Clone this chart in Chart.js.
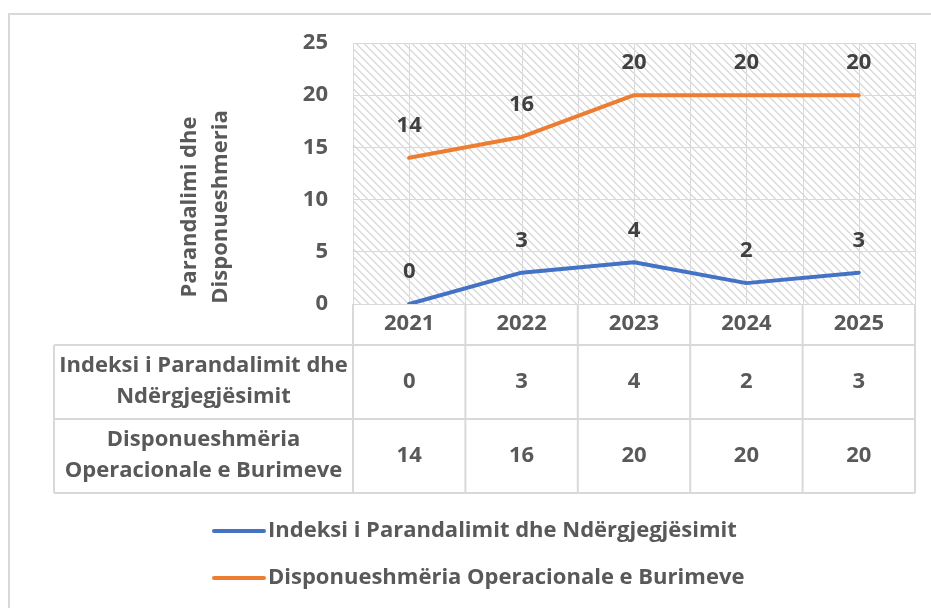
<!DOCTYPE html>
<html lang="sq">
<head>
<meta charset="utf-8">
<title>Parandalimi dhe Disponueshmeria</title>
<script src="https://cdn.jsdelivr.net/npm/chart.js@4.4.1/dist/chart.umd.min.js"></script>
<style>
  html, body { margin: 0; padding: 0; background: #ffffff; }
  canvas { display: block; }
</style>
</head>
<body>
<canvas id="grafica" width="931" height="608"></canvas>
<script>
// --- Datos ---
const anios = ['2021', '2022', '2023', '2024', '2025'];
const valoresIndeksi = [0, 3, 4, 2, 3];
const valoresDisponueshmeria = [14, 16, 20, 20, 20];
const nombresSeries = ['Indeksi i Parandalimit dhe Ndërgjegjësimit', 'Disponueshmëria Operacionale e Burimeve'];
const filasTabla = [
    ['Indeksi i Parandalimit dhe', 'Ndërgjegjësimit'],
    ['Disponueshmëria', 'Operacionale e Burimeve']
];
const tituloEjeY = ['Parandalimi dhe', 'Disponueshmeria'];
const ticksY = [0, 5, 10, 15, 20, 25];
const coloresSeries = ['#4472C4', '#ED7D31'];

const FAMILIA = "'Open Sans'";
const TAMANO = 22;
const FUENTE = "bold " + TAMANO + "px " + FAMILIA;
const GRIS_TEXTO = '#595959';
const GRIS_LINEA = '#d9d9d9';

// Patron rayado (diagonal hacia abajo) para el fondo del area de trazado
function crearRayado(ctx) {
    const c = document.createElement('canvas');
    c.width = 8; c.height = 8;
    const p = c.getContext('2d');
    p.fillStyle = '#ffffff';
    p.fillRect(0, 0, 8, 8);
    p.fillStyle = '#dcdcdc';
    for (let i = 0; i < 8; i++) {
        p.fillRect(i, i, 1, 1);
        p.fillRect((i + 1) % 8, i, 1, 1);
    }
    return ctx.createPattern(c, 'repeat');
}

const pluginFondo = {
    id: 'fondo',
    beforeDraw(chart) {
        const { ctx, chartArea: a, scales } = chart;
        ctx.save();
        ctx.fillStyle = '#ffffff';
        ctx.fillRect(0, 0, chart.width, chart.height);
        // marco exterior
        ctx.strokeStyle = GRIS_LINEA;
        ctx.lineWidth = 2;
        ctx.strokeRect(9, 14, chart.width + 20, chart.height + 20);
        // rayado
        ctx.fillStyle = crearRayado(ctx);
        ctx.fillRect(a.left, a.top, a.right - a.left, a.bottom - a.top);
        // lineas verticales cada media categoria
        const x = scales.x;
        const paso = x.getPixelForValue(1) - x.getPixelForValue(0);
        ctx.strokeStyle = GRIS_LINEA;
        ctx.lineWidth = 1;
        for (let k = 0; k <= anios.length * 2; k++) {
            const px = Math.round(a.left + k * paso / 2) + 0.5;
            ctx.beginPath();
            ctx.moveTo(px, a.top);
            ctx.lineTo(px, a.bottom);
            ctx.stroke();
        }
        ctx.restore();
    }
};

const pluginEtiquetas = {
    id: 'etiquetas',
    afterDatasetsDraw(chart) {
        const { ctx } = chart;
        ctx.save();
        ctx.font = FUENTE;
        ctx.fillStyle = '#404040';
        ctx.textAlign = 'center';
        ctx.textBaseline = 'middle';
        chart.data.datasets.forEach((ds, i) => {
            chart.getDatasetMeta(i).data.forEach((pt, j) => {
                ctx.fillText(String(ds.data[j]), pt.x, pt.y - 32);
            });
        });
        ctx.restore();
    }
};

// Tabla de datos, titulo del eje Y y leyenda
const pluginTabla = {
    id: 'tabla',
    afterDraw(chart) {
        const { ctx, chartArea: a, scales } = chart;
        const x = scales.x;
        const paso = x.getPixelForValue(1) - x.getPixelForValue(0);
        const yCab = a.bottom, yF1 = 345, yF2 = 419, yFin = 493, xIzq = 54;

        ctx.save();
        ctx.strokeStyle = GRIS_LINEA;
        ctx.lineWidth = 2;
        const linea = (x1, y1, x2, y2) => {
            ctx.beginPath(); ctx.moveTo(x1, y1); ctx.lineTo(x2, y2); ctx.stroke();
        };
        [yF1, yF2, yFin].forEach(y => linea(xIzq, y, a.right, y));
        linea(xIzq, yF1, xIzq, yFin);
        for (let k = 0; k <= anios.length; k++) {
            linea(a.left + k * paso, yCab, a.left + k * paso, yFin);
        }

        ctx.font = FUENTE;
        ctx.fillStyle = GRIS_TEXTO;
        ctx.textAlign = 'center';
        ctx.textBaseline = 'middle';
        anios.forEach((an, i) => ctx.fillText(an, x.getPixelForValue(i), 324));

        const series = chart.data.datasets;
        const centrosFila = [382, 456];
        series.forEach((ds, f) => {
            ds.data.forEach((v, i) => ctx.fillText(String(v), x.getPixelForValue(i), centrosFila[f]));
            const cx = (xIzq + a.left) / 2;
            ctx.fillText(filasTabla[f][0], cx, centrosFila[f] - 16);
            ctx.fillText(filasTabla[f][1], cx, centrosFila[f] + 15);
        });

        // titulo eje Y (rotado)
        ctx.save();
        ctx.translate(206, 207);
        ctx.rotate(-Math.PI / 2);
        ctx.fillText(tituloEjeY[0], 0, -16);
        ctx.fillText(tituloEjeY[1], 0, 15);
        ctx.restore();

        // leyenda
        const yLeyenda = [531, 578];
        series.forEach((ds, i) => {
            ctx.strokeStyle = ds.borderColor;
            ctx.lineWidth = 4;
            ctx.lineCap = 'round';
            linea(214, yLeyenda[i], 264, yLeyenda[i]);
            ctx.textAlign = 'left';
            ctx.fillStyle = GRIS_TEXTO;
            ctx.fillText(ds.label, 268, yLeyenda[i]);
        });
        ctx.restore();
    }
};

const ctx = document.getElementById('grafica').getContext('2d');
new Chart(ctx, {
    type: 'line',
    data: {
        labels: anios,
        datasets: [
            { label: nombresSeries[0], data: valoresIndeksi, borderColor: coloresSeries[0], backgroundColor: coloresSeries[0] },
            { label: nombresSeries[1], data: valoresDisponueshmeria, borderColor: coloresSeries[1], backgroundColor: coloresSeries[1] }
        ]
    },
    options: {
        responsive: false,
        animation: false,
        layout: { padding: { left: 0, right: 16, top: 43, bottom: 263 } },
        elements: {
            line: { borderWidth: 4, tension: 0, borderCapStyle: 'round', borderJoinStyle: 'round' },
            point: { radius: 0, hoverRadius: 0 }
        },
        plugins: {
            legend: { display: false },
            tooltip: { enabled: false }
        },
        scales: {
            x: {
                offset: true,
                grid: { display: false },
                border: { display: false },
                ticks: { display: false },
                afterFit: (s) => { s.height = 41; }
            },
            y: {
                min: ticksY[0],
                max: ticksY[ticksY.length - 1],
                afterBuildTicks: (s) => { s.ticks = ticksY.map(v => ({ value: v })); },
                grid: { color: GRIS_LINEA, lineWidth: 1, drawTicks: false },
                border: { display: false },
                ticks: {
                    padding: 25,
                    color: GRIS_TEXTO,
                    font: { family: 'Open Sans', weight: 'bold', size: TAMANO }
                },
                afterFit: (s) => { s.width = 353; }
            }
        }
    },
    plugins: [pluginFondo, pluginEtiquetas, pluginTabla]
});
</script>
</body>
</html>
